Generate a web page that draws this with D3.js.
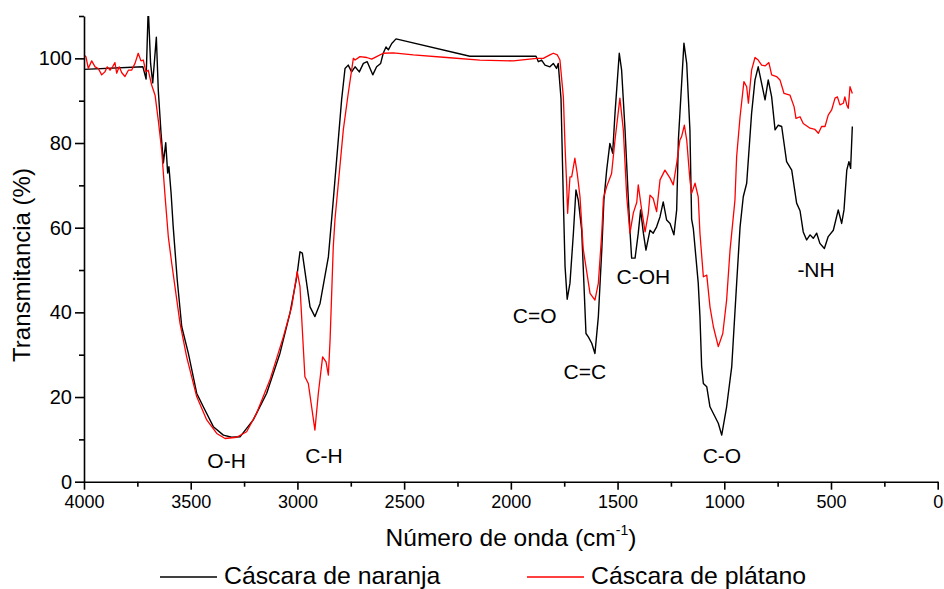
<!DOCTYPE html>
<html>
<head>
<meta charset="utf-8">
<script src="https://cdn.jsdelivr.net/npm/d3@7"></script>
<style>
body { margin: 0; background: #fff; }
svg { display: block; }
text { font-family: "Liberation Sans", Arial, sans-serif; fill: #000; }
</style>
</head>
<body>
<svg width="944" height="589"></svg>
<script>
// FTIR spectra (cm-1 , %T)
var naranjaWave = [4000,3724,3709,3699,3688,3678,3661,3652,3639,3628,3617,3608,3602,3592,3582,3563,3542,3511,3472,3441,
  3394,3347,3308,3269,3207,3144,3082,3035,3003,2988,2977,2941,2918,2894,2855,2832,2793,2777,2762,2746,
  2730,2710,2691,2673,2647,2629,2610,2598,2585,2574,2558,2538,2192,1882,1871,1856,1840,1817,1801,1786,
  1778,1765,1754,1746,1736,1723,1707,1695,1684,1668,1661,1648,1637,1621,1606,1590,1574,1564,1551,1536,
  1523,1512,1492,1481,1465,1450,1442,1434,1418,1403,1392,1379,1367,1348,1333,1317,1301,1286,1270,1254,
  1236,1223,1215,1189,1176,1161,1153,1145,1122,1114,1106,1098,1082,1067,1044,1028,1012,989,965,942,
  926,911,895,872,856,841,825,809,794,778,762,747,731,708,684,661,645,630,614,598,
  583,567,552,531,513,489,466,450,439,426,416,408,400];
var naranjaT = [97.4,98.0,95.1,112,98.8,94.2,105,92.5,82.3,75.3,80.1,72.9,74.4,68.2,60.2,47.6,36.6,30.3,20.9,17.7,
  13.0,11.0,10.5,10.6,14.6,20.9,30.3,39.8,48.4,54.3,54.0,41.3,39.0,42.1,53.1,66.5,90.2,97.6,98.4,96.8,
  98.0,96.8,98.8,99.2,96.1,98.0,98.8,101.2,102.7,102.0,103.5,104.6,100.5,100.5,99.2,99.6,98.4,98.0,98.8,97.6,
  98.8,90.5,66.5,50.8,43.1,46.9,58.7,68.9,66.5,59.4,50.8,35.0,34.2,32.7,30.3,39.0,54.7,66.5,73.6,79.9,
  77.6,87.0,101.2,97.2,83.1,67.3,59.4,52.8,52.8,58.7,64.2,58.7,54.7,59.4,58.7,60.2,62.6,66.1,61.8,61.0,
  58.3,64.2,80.7,103.6,98.8,83.1,62.0,59.8,46.9,39.0,27.2,23.2,22.4,17.7,15.4,13.8,11.0,17.7,27.2,46.9,
  60.2,67.3,70.5,87.0,94.9,98.0,94.1,90.2,94.9,90.9,83.1,84.2,83.9,75.6,73.6,65.8,64.0,59.0,57.1,58.3,
  57.5,58.7,56.3,55.1,57.9,59.4,64.2,61.0,64.2,73.6,75.6,74.0,83.9];

var platanoWave = [4000,3991,3980,3964,3948,3933,3917,3902,3891,3878,3866,3855,3847,3835,3823,3808,3792,3777,3761,3746,
  3733,3722,3710,3699,3683,3667,3652,3636,3620,3605,3589,3550,3519,3472,3425,3378,3339,3285,3238,3191,
  3129,3066,3027,3001,2988,2965,2949,2918,2902,2882,2866,2855,2847,2832,2824,2785,2762,2738,2730,2707,
  2675,2652,2629,2598,2551,2457,2301,2145,1989,1879,1848,1817,1801,1782,1770,1754,1746,1738,1734,1723,
  1715,1700,1689,1676,1661,1629,1606,1590,1574,1566,1551,1528,1512,1489,1473,1457,1442,1426,1410,1403,
  1387,1371,1356,1348,1333,1317,1301,1278,1254,1239,1223,1208,1200,1187,1176,1161,1153,1137,1122,1114,
  1098,1082,1067,1051,1028,1007,989,973,950,942,926,908,895,887,872,856,841,825,809,791,
  778,755,739,720,692,673,664,645,630,598,575,559,544,528,513,497,481,470,458,442,
  435,426,419,411,400];
var platanoT = [100.8,100.4,97.6,99.4,98,97.6,96.1,96.8,98,97.2,98,99,96.5,98,96.6,95.7,97.2,97.2,98.8,101.2,
  99.4,99.6,96.8,97.2,93.7,91.3,85.4,78.3,67.3,57.9,51.6,37.4,29.5,20.1,14.6,11.4,10.2,10.5,11.8,16.2,
  24,34.2,41.3,49.6,46.1,24.8,23.2,12.2,20.9,29.5,28.3,25.2,33.5,55.5,62,83.1,91.7,100,99.6,100.4,
  100.2,99.8,100.4,101.2,101.3,100.8,100.2,99.6,99.4,100,100,100.8,101.2,100.8,99.6,90.9,79.1,69.7,63.4,72,
  72,76.4,72.8,67.3,55,44.5,42.9,46.9,58.7,67,69.7,72.8,80.7,90.6,83.1,67.3,58.7,63.5,66,70.1,
  64.2,59,63.4,67.7,66.9,63.8,71.3,73.6,71.7,70.1,75.2,80.7,81.5,84.2,80.7,71.3,68.1,70.5,67.3,58.7,
  48.4,48.8,41.3,36.6,31.9,35,42.9,54.7,66.5,76.8,86.2,94.5,93.3,89.4,97.2,100.2,99.6,98.4,98.2,99,
  96.1,95.7,94.9,91.7,91.3,88.6,85.8,86.2,84.6,83.5,83.2,82.3,83.9,83.9,86.6,87.8,90.6,90.9,89,89.4,
  90.9,89,88.2,93.3,91.7];

var xMajor = [4000,3500,3000,2500,2000,1500,1000,500,0];
var xMinor = [3750,3250,2750,2250,1750,1250,750,250];
var yMajor = [0,20,40,60,80,100];
var yMinor = [10,30,50,70,90,110];

// band labels: text, wavenumber, %T of the baseline
var bandNames = ["O-H","C-H","C=O","C=C","C-OH","C-O","-NH"];
var bandWave  = [3332,2876,1888,1653,1379,1011,570];
var bandT     = [3.2,4.4,37.5,24.3,46.7,4.4,48.3];

var seriesNames = ["Cáscara de naranja","Cáscara de plátano"];
var seriesColors = ["#000000","#ff0000"];

var svg = d3.select("svg");
var margin = {top: 16, right: 6.3, bottom: 107.3, left: 84};
var width = 944 - margin.left - margin.right;
var height = 589 - margin.top - margin.bottom;

var xScale = d3.scaleLinear().domain([4000, 0]).range([0, width]);
var yScale = d3.scaleLinear().domain([0, 110]).range([height, 0]);

var g = svg.append("g").attr("transform", "translate(" + margin.left + "," + margin.top + ")");

g.append("clipPath").attr("id", "plotclip")
  .append("rect").attr("x", 0).attr("y", 0).attr("width", width).attr("height", height);

var line = d3.line()
  .x(function(d) { return xScale(d[0]); })
  .y(function(d) { return yScale(d[1]); });

var naranja = naranjaWave.map(function(w, i) { return [w, naranjaT[i]]; });
var platano = platanoWave.map(function(w, i) { return [w, platanoT[i]]; });

g.append("path").datum(naranja)
  .attr("clip-path", "url(#plotclip)")
  .attr("d", line)
  .attr("fill", "none")
  .attr("stroke", seriesColors[0])
  .attr("stroke-width", 1.4)
  .attr("stroke-linejoin", "round");

g.append("path").datum(platano)
  .attr("clip-path", "url(#plotclip)")
  .attr("d", line)
  .attr("fill", "none")
  .attr("stroke", seriesColors[1])
  .attr("stroke-width", 1.3)
  .attr("stroke-linejoin", "round");

// axes
var xAxis = d3.axisBottom(xScale).tickValues(xMajor).tickSize(8).tickSizeOuter(0).tickPadding(6)
  .tickFormat(d3.format("d"));
var xAxisMinor = d3.axisBottom(xScale).tickValues(xMinor).tickSize(5).tickFormat("");
var yAxis = d3.axisLeft(yScale).tickValues(yMajor).tickSize(9).tickSizeOuter(0).tickPadding(3);
var yAxisMinor = d3.axisLeft(yScale).tickValues(yMinor).tickSize(5).tickFormat("");

var gx = g.append("g").attr("transform", "translate(0," + height + ")").call(xAxis);
var gxm = g.append("g").attr("transform", "translate(0," + height + ")").call(xAxisMinor);
var gy = g.append("g").call(yAxis);
var gym = g.append("g").call(yAxisMinor);
gxm.select(".domain").remove();
gym.select(".domain").remove();

[gx, gxm, gy, gym].forEach(function(a) {
  a.selectAll("path, line").attr("stroke", "#000").attr("stroke-width", 1.6);
  a.selectAll("text").attr("font-family", "Liberation Sans, Arial, sans-serif").attr("fill", "#000");
});
gx.selectAll("text").attr("font-size", "18px");
gy.selectAll("text").attr("font-size", "20px");

// band labels
g.selectAll(".band")
  .data(bandNames)
  .enter()
  .append("text")
  .attr("class", "band")
  .attr("x", function(d, i) { return xScale(bandWave[i]); })
  .attr("y", function(d, i) { return yScale(bandT[i]); })
  .attr("text-anchor", "middle")
  .attr("font-size", "21px")
  .text(function(d) { return d; });

// axis titles
var xt = svg.append("text")
  .attr("x", 511)
  .attr("y", 546)
  .attr("text-anchor", "middle")
  .attr("font-size", "24.5px");
xt.append("tspan").text("Número de onda (cm");
xt.append("tspan").attr("font-size", "14px").attr("dy", -11).text("-1");
xt.append("tspan").attr("dy", 11).text(")");

svg.append("text")
  .attr("transform", "translate(30,265) rotate(-90)")
  .attr("text-anchor", "middle")
  .attr("font-size", "24px")
  .text("Transmitancia (%)");

// legend
var legendX = [160, 527];
var lg = svg.append("g");
seriesNames.forEach(function(name, i) {
  lg.append("line")
    .attr("x1", legendX[i]).attr("x2", legendX[i] + 57)
    .attr("y1", 577).attr("y2", 577)
    .attr("stroke", seriesColors[i])
    .attr("stroke-width", 1.3);
  lg.append("text")
    .attr("x", legendX[i] + 64)
    .attr("y", 584)
    .attr("font-size", "24.8px")
    .text(name);
});
</script>
</body>
</html>
